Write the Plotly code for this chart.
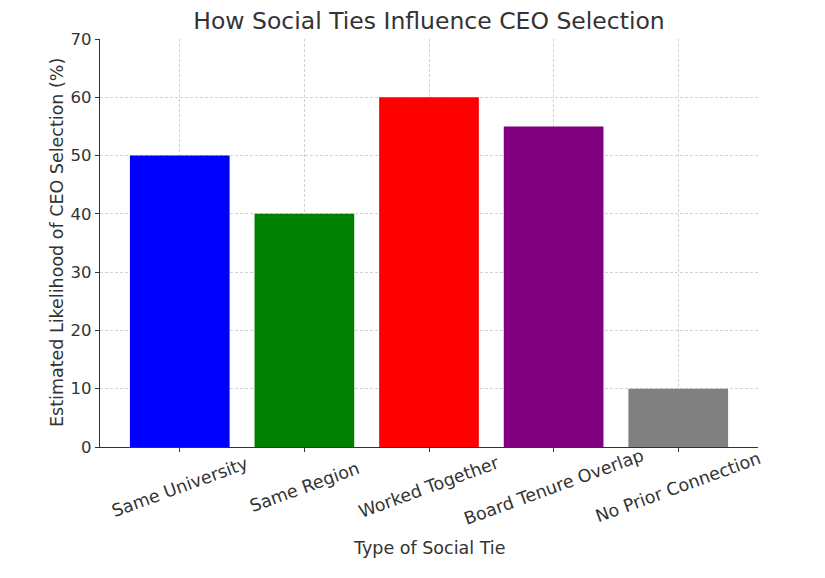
import plotly.graph_objects as go

# Data
tie_types = ['Same University', 'Same Region', 'Worked Together',
             'Board Tenure Overlap', 'No Prior Connection']
likelihood = [50, 40, 60, 55, 10]
bar_colors = ['blue', 'green', 'red', 'purple', 'gray']
y_ticks = [0, 10, 20, 30, 40, 50, 60, 70]

font_family = 'DejaVu Sans'
text_color = '#333333'
grid_color = '#d2d2d2'

# page body has an 8px margin, so the figure is drawn 8px smaller
fig_w, fig_h = 817, 570

fig = go.Figure(go.Bar(
    x=list(range(len(tie_types))),
    y=likelihood,
    width=0.8,
    marker=dict(color=bar_colors, line=dict(width=0)),
    hovertemplate='%{customdata}: %{y}%<extra></extra>',
    customdata=tie_types,
))

# matplotlib-like rotated tick labels, centred under each bar
annotations = [
    dict(x=ix, y=0, xref='x', yref='paper', text=label,
         textangle=-20, showarrow=False, yshift=-40,
         xanchor='center', yanchor='middle',
         font=dict(size=17.5, color=text_color, family=font_family))
    for ix, label in enumerate(tie_types)
]
annotations.append(dict(
    x=0.5, y=0, xref='paper', yref='paper', text='Type of Social Tie',
    showarrow=False, yshift=-101, xanchor='center', yanchor='middle',
    font=dict(size=17.5, color=text_color, family=font_family)))
annotations.append(dict(
    x=0, y=0.5, xref='paper', yref='paper',
    text='Estimated Likelihood of CEO Selection (%)',
    textangle=-90, showarrow=False, xshift=-43,
    xanchor='center', yanchor='middle',
    font=dict(size=17.5, color=text_color, family=font_family)))

fig.update_layout(
    width=fig_w,
    height=fig_h,
    margin=dict(l=92, r=67, t=31, b=131),
    paper_bgcolor='white',
    plot_bgcolor='white',
    showlegend=False,
    font=dict(family=font_family, color=text_color, size=16),
    title=dict(
        text='How Social Ties Influence CEO Selection',
        x=0.5, xref='paper', xanchor='center',
        y=1 - 13 / fig_h, yanchor='middle',
        font=dict(size=23.5, color=text_color, family=font_family),
    ),
    annotations=annotations,
)
fig.update_xaxes(
    range=[-0.64, 4.64],
    tickvals=list(range(len(tie_types))),
    showticklabels=False,
    ticks='outside', ticklen=4, tickcolor=text_color,
    showline=True, linecolor=text_color, linewidth=1.2,
    showgrid=True, gridcolor=grid_color, griddash='3px,2px', gridwidth=0.8,
    zeroline=False,
)
fig.update_yaxes(
    range=[0, 70],
    tickvals=y_ticks,
    ticks='outside', ticklen=4, tickcolor=text_color,
    tickfont=dict(size=16.5, color=text_color),
    showline=True, linecolor=text_color, linewidth=1.2,
    showgrid=True, gridcolor=grid_color, griddash='3px,2px', gridwidth=0.8,
    zeroline=False,
)

fig.write_html('out.html')
